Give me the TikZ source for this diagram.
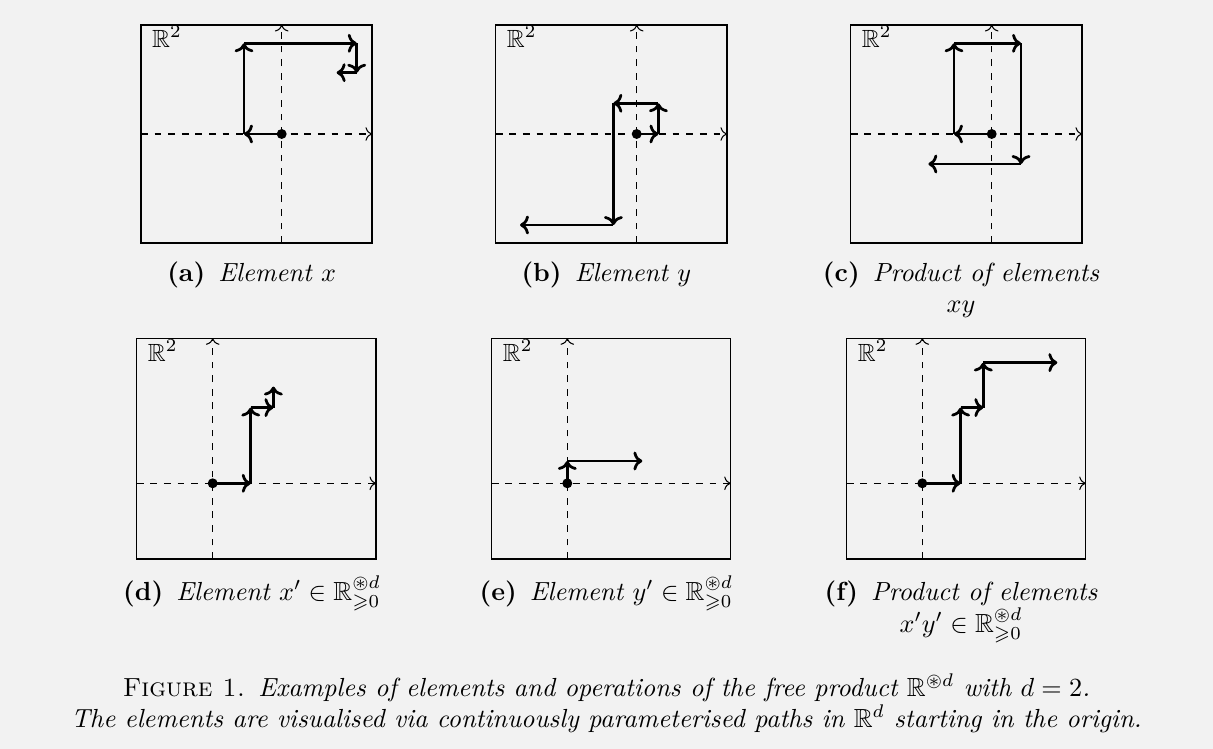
\documentclass[tikz,border=0pt]{standalone}
\usepackage{amssymb}
\usetikzlibrary{arrows.meta}
\definecolor{bgcol}{HTML}{F2F2F2}
\tikzset{
  frame/.style={draw=black, line width=0.55pt},
  axis/.style={dash pattern=on 2.6pt off 2.6pt, line width=0.4pt, ->},
  seg/.style={line width=1.05pt, -{To[length=3.4pt,width=7.2pt]}},
  dotmark/.style={circle, fill=black, inner sep=0pt, minimum size=3.8pt},
  rlabel/.style={anchor=base west, inner sep=0pt, font=\fontsize{9.5}{11}\selectfont},
  captext/.style={anchor=base, inner sep=0pt},
}
\newcommand\drawpanel[7]{%
  \coordinate (#1BL) at (#2,#5);
  \coordinate (#1TR) at (#4,#3);
  \coordinate (#1O) at (#6,#7);
  \draw[frame] (#1BL) rectangle (#1TR);
  \draw[axis] (#1BL |- #1O) -- (#1TR |- #1O);
  \draw[axis] (#1O |- #1BL) -- (#1O |- #1TR);
  \node[rlabel] (#1R) at (#2+10.7,#3+23) {$\mathbb{R}^2$};
}
\begin{document}
\begin{tikzpicture}[x=0.382pt, y=-0.382pt]
\fill[bgcol] (0,0) rectangle (1213,749);
\useasboundingbox (0,0) rectangle (1213,749);

% ---------- panel frames and axes ----------
\drawpanel{a}{141}{25}{372}{243}{281.7}{134}
\drawpanel{b}{495.7}{25}{727}{243}{636.7}{134}
\drawpanel{c}{850.7}{25}{1082}{243}{991.7}{134}
\drawpanel{d}{136.7}{338.3}{376}{559}{212.7}{483.3}
\drawpanel{e}{491.7}{338.3}{730.7}{559}{567.3}{483.3}
\drawpanel{f}{846.7}{338.3}{1085.7}{559}{922.3}{483.3}

% ---------- (a) ----------
\begin{scope}[shift={(aO)}, y=0.382pt]
  \coordinate (a1) at (-37.7,0);
  \coordinate (a2) at (-37.7,90.7);
  \coordinate (a3) at (75,90.7);
  \coordinate (a4) at (75,61.3);
  \coordinate (a5) at (55,61.3);
  \draw[seg] (aO) -- (a1);
  \draw[seg] (a1) -- (a2);
  \draw[seg] (a2) -- (a3);
  \draw[seg] (a3) -- (a4);
  \draw[seg] (a4) -- (a5);
  \node[dotmark] (aDot) at (aO) {};
\end{scope}

% ---------- (b) ----------
\begin{scope}[shift={(bO)}, y=0.382pt]
  \coordinate (b1) at (21.7,0);
  \coordinate (b2) at (21.7,30.7);
  \coordinate (b3) at (-23.3,30.7);
  \coordinate (b4) at (-23.3,-91);
  \coordinate (b5) at (-116.7,-91);
  \draw[seg] (bO) -- (b1);
  \draw[seg] (b1) -- (b2);
  \draw[seg] (b2) -- (b3);
  \draw[seg] (b3) -- (b4);
  \draw[seg] (b4) -- (b5);
  \node[dotmark] (bDot) at (bO) {};
\end{scope}

% ---------- (c) ----------
\begin{scope}[shift={(cO)}, y=0.382pt]
  \coordinate (c1) at (-37.7,0);
  \coordinate (c2) at (-37.7,90.7);
  \coordinate (c3) at (29.3,90.7);
  \coordinate (c4) at (29.3,-30);
  \coordinate (c5) at (-63.3,-30);
  \draw[seg] (cO) -- (c1);
  \draw[seg] (c1) -- (c2);
  \draw[seg] (c2) -- (c3);
  \draw[seg] (c3) -- (c4);
  \draw[seg] (c4) -- (c5);
  \node[dotmark] (cDot) at (cO) {};
\end{scope}

% ---------- (d) ----------
\begin{scope}[shift={(dO)}, y=0.382pt]
  \coordinate (d1) at (38,0);
  \coordinate (d2) at (38,75.7);
  \coordinate (d3) at (60.7,75.7);
  \coordinate (d4) at (60.7,96.7);
  \draw[seg] (dO) -- (d1);
  \draw[seg] (d1) -- (d2);
  \draw[seg] (d2) -- (d3);
  \draw[seg] (d3) -- (d4);
  \node[dotmark] (dDot) at (dO) {};
\end{scope}

% ---------- (e) ----------
\begin{scope}[shift={(eO)}, y=0.382pt]
  \coordinate (e1) at (0,22.3);
  \coordinate (e2) at (75,22.3);
  \draw[seg] (eO) -- (e1);
  \draw[seg] (e1) -- (e2);
  \node[dotmark] (eDot) at (eO) {};
\end{scope}

% ---------- (f) ----------
\begin{scope}[shift={(fO)}, y=0.382pt]
  \coordinate (f1) at (38.3,0);
  \coordinate (f2) at (38.3,75.7);
  \coordinate (f3) at (61,75.7);
  \coordinate (f4) at (61,120.7);
  \coordinate (f5) at (135,120.7);
  \draw[seg] (fO) -- (f1);
  \draw[seg] (f1) -- (f2);
  \draw[seg] (f2) -- (f3);
  \draw[seg] (f3) -- (f4);
  \draw[seg] (f4) -- (f5);
  \node[dotmark] (fDot) at (fO) {};
\end{scope}

% ---------- sub-captions ----------
\node[captext] (capa) at (251.7,282) {\textbf{(a)}\hspace{0.5em}\textit{Element $x$}};
\node[captext] (capb) at (606.4,282) {\textbf{(b)}\hspace{0.5em}\textit{Element $y$}};
\node[captext] (capc) at (961.1,282) {\textbf{(c)}\hspace{0.5em}\textit{Product of elements}};
\node[captext] (capc2) at (961.1,313) {\textit{$xy$}};

\node[captext] (capd) at (252,600) {\textbf{(d)}\hspace{0.5em}\textit{Element $x'\in\mathbb{R}^{\circledast d}_{\geqslant 0}$}};
\node[captext] (cape) at (606.4,600) {\textbf{(e)}\hspace{0.5em}\textit{Element $y'\in\mathbb{R}^{\circledast d}_{\geqslant 0}$}};
\node[captext] (capf) at (961.1,600) {\textbf{(f)}\hspace{0.5em}\textit{Product of elements}};
\node[captext] (capf2) at (961.1,632) {\textit{$x'y'\in\mathbb{R}^{\circledast d}_{\geqslant 0}$}};

% ---------- figure caption ----------
\node[captext] (fig1) at (606.5,696) {\textsc{Figure 1.}\enspace\textit{Examples of elements and operations of the free product $\mathbb{R}^{\circledast d}$ with $d=2$.}};
\node[captext] (fig2) at (606.5,727) {\textit{The elements are visualised via continuously parameterised paths in $\mathbb{R}^d$ starting in the origin.}};
\end{tikzpicture}
\end{document}
